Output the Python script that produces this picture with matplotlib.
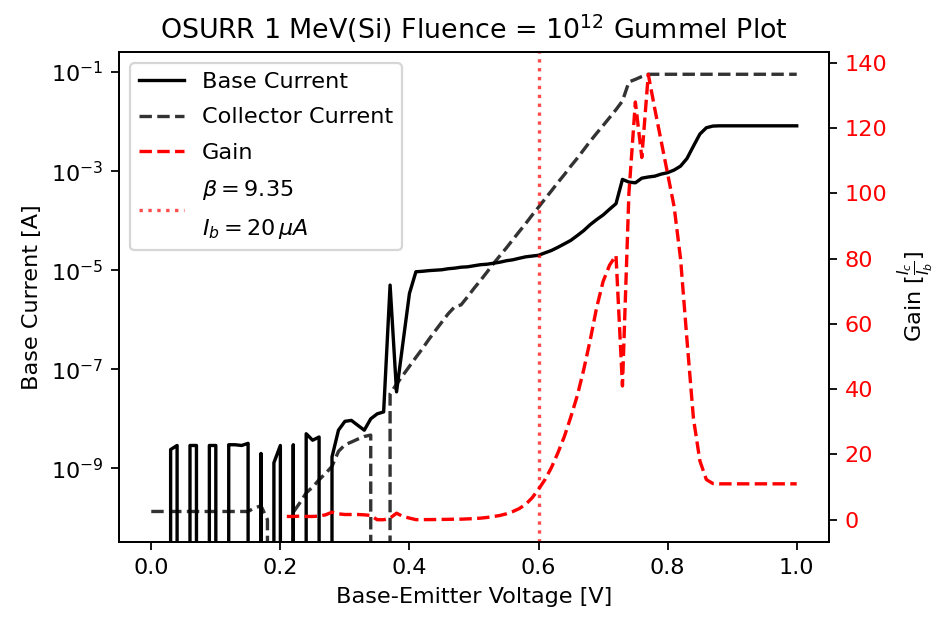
import numpy as np
import matplotlib
matplotlib.use('Agg')
import matplotlib.pyplot as plt

# 扫描电压 (V)
vbe = np.linspace(0, 1, 101)

# 基极电流 (A)，0 表示测量噪声 (对数坐标下被裁掉)
base_current = [
    0, 0, 0, 2.4e-9, 2.9e-9, 0, 2.9e-9, 2.9e-9, 0, 2.9e-9,
    2.9e-9, 0, 3.0e-9, 3.0e-9, 2.9e-9, 3.2e-9, 0, 2.0e-9, 0, 1.3e-9,
    2.9e-9, 0, 3.0e-9, 0, 5.0e-9, 3.7e-9, 4.3e-9, 0, 1.7e-9, 5.9e-9,
    8.9e-9, 9.3e-9, 7.4e-9, 5.9e-9, 1.0e-8, 1.26e-8, 1.38e-8, 5.0e-6, 3.5e-8, 3.5e-7,
    3.4e-6, 9.3e-6, 9.5e-6, 9.8e-6, 1.0e-5, 1.02e-5, 1.07e-5, 1.1e-5, 1.15e-5, 1.17e-5,
    1.23e-5, 1.29e-5, 1.32e-5, 1.38e-5, 1.45e-5, 1.55e-5, 1.62e-5, 1.74e-5, 1.86e-5, 1.93e-5,
    2.0e-5, 2.24e-5, 2.5e-5, 2.9e-5, 3.4e-5, 4.0e-5, 5.0e-5, 6.3e-5, 8.3e-5, 1.05e-4,
    1.3e-4, 1.7e-4, 2.2e-4, 6.8e-4, 6.0e-4, 5.8e-4, 7.2e-4, 7.6e-4, 7.9e-4, 8.7e-4,
    9.3e-4, 1.05e-3, 1.26e-3, 1.8e-3, 3.2e-3, 5.6e-3, 7.5e-3, 8.1e-3, 8.2e-3, 8.2e-3,
    8.2e-3, 8.2e-3, 8.2e-3, 8.2e-3, 8.2e-3, 8.2e-3, 8.2e-3, 8.2e-3, 8.2e-3, 8.2e-3,
    8.2e-3,
]

# 集电极电流 (A)
collector_current = [
    1.35e-10, 1.35e-10, 1.35e-10, 1.35e-10, 1.35e-10, 1.35e-10, 1.35e-10, 1.35e-10, 1.35e-10, 1.35e-10,
    1.35e-10, 1.35e-10, 1.35e-10, 1.35e-10, 1.35e-10, 1.35e-10, 1.6e-10, 1.75e-10, 9.2e-11, 0,
    0, 0, 1.3e-10, 2.0e-10, 3.2e-10, 4.2e-10, 5.9e-10, 7.9e-10, 1.1e-9, 2.2e-9,
    3.0e-9, 3.4e-9, 3.9e-9, 4.4e-9, 4.7e-9, 0, 0, 3.2e-8, 5.0e-8, 7.6e-8,
    1.15e-7, 1.74e-7, 2.6e-7, 4.0e-7, 6.0e-7, 8.9e-7, 1.32e-6, 1.82e-6, 2.0e-6, 2.9e-6,
    4.3e-6, 6.2e-6, 9.1e-6, 1.35e-5, 1.95e-5, 2.8e-5, 4.1e-5, 6.0e-5, 8.7e-5, 1.29e-4,
    1.87e-4, 2.75e-4, 4.0e-4, 5.9e-4, 8.5e-4, 1.26e-3, 1.82e-3, 2.7e-3, 4.0e-3, 5.8e-3,
    8.3e-3, 1.2e-2, 1.74e-2, 2.6e-2, 6.3e-2, 7.1e-2, 8.1e-2, 9.0e-2, 9.0e-2, 9.0e-2,
    9.0e-2, 9.0e-2, 9.0e-2, 9.0e-2, 9.0e-2, 9.0e-2, 9.0e-2, 9.0e-2, 9.0e-2, 9.0e-2,
    9.0e-2, 9.0e-2, 9.0e-2, 9.0e-2, 9.0e-2, 9.0e-2, 9.0e-2, 9.0e-2, 9.0e-2, 9.0e-2,
    9.0e-2,
]

# 增益 Ic/Ib，从 0.21 V 开始
gain_start = 21
gain = [
    1.0, 1.0, 1.1, 1.0, 1.0, 1.1, 1.5, 2.3, 1.8,
    1.6, 1.6, 1.6, 1.5, 1.3, 0.0, 0.0, 0.5, 2.0, 1.0,
    0.5, 0.02, 0.03, 0.04, 0.06, 0.09, 0.12, 0.17, 0.17, 0.25,
    0.35, 0.48, 0.69, 0.98, 1.3, 1.8, 2.5, 3.4, 4.7, 6.7,
    9.35, 12.3, 16, 20.5, 25.5, 31.5, 38, 46, 55, 65,
    73, 78, 81, 41, 100, 128, 111, 136.5, 126, 116,
    106, 96, 80, 55, 31, 18, 12.3, 11.1, 11.0, 11.0,
    11.0, 11.0, 11.0, 11.0, 11.0, 11.0, 11.0, 11.0, 11.0, 11.0,
    11.0,
]

# 工作点
v_op = 0.6
beta_op = 9.35

fig = plt.figure(figsize=(940 / 161, 618 / 161), dpi=161)
ax1 = fig.add_axes([119 / 940, 1 - 542 / 618, 710 / 940, 490 / 618])

l1, = ax1.semilogy(vbe, base_current, 'k-', label='Base Current')
l2, = ax1.semilogy(vbe, collector_current, 'k--', alpha=0.8, label='Collector Current')
ax1.set_xlabel('Base-Emitter Voltage [V]')
ax1.set_ylabel('Base Current [A]')
ax1.set_title('OSURR 1 MeV(Si) Fluence = $10^{12}$ Gummel Plot')

ax2 = ax1.twinx()
l3, = ax2.plot(vbe[gain_start:], gain, 'r--', label='Gain')
l4 = ax2.axvline(v_op, color='r', linestyle=':', alpha=0.7,
                 label='$\\beta = %.2f$\n$I_b = 20\\,\\mu A$' % beta_op)
ax2.set_ylabel(r'Gain [$\frac{I_c}{I_b}$]')
ax2.tick_params(axis='y', labelcolor='red')

leg = ax2.legend(handles=[l1, l2, l3, l4], loc='upper left', labelspacing=0.68)
leg.get_texts()[3].set_linespacing(1.85)

fig.savefig('out.png', dpi=161)
